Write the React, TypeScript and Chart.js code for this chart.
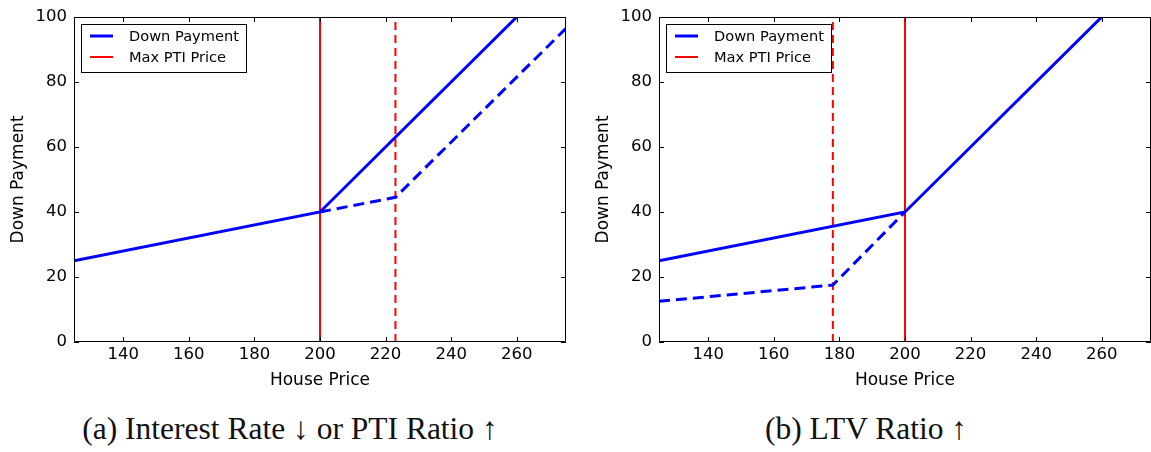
import React, { useEffect, useRef } from "react";
import { Chart, registerables } from "chart.js";

Chart.register(...registerables);

// ---- data ----
const xMin = 125;
const xMax = 275;
const yMin = 0;
const yMax = 100;
const xTicks = [140, 160, 180, 200, 220, 240, 260];
const yTicks = [0, 20, 40, 60, 80, 100];

const baseX = [125, 200, 260];
const baseY = [25, 40, 100];

const rateDashX = [200, 223, 275];
const rateDashY = [40, 44.5, 96.5];

const ltvDashX = [125, 178, 200];
const ltvDashY = [12.5, 17.5, 40];

const maxPtiBase = 200;
const maxPtiRate = 223;
const maxPtiLtv = 178;

const legendLabels = ["Down Payment", "Max PTI Price"];
const xTitle = "House Price";
const yTitle = "Down Payment";
const captionA = "(a) Interest Rate \u2193 or PTI Ratio \u2191";
const captionB = "(b) LTV Ratio \u2191";

const BLUE = "#0000ff";
const RED = "#ff0000";
const FONT = "'DejaVu Sans', sans-serif";

const toPts = (xs: number[], ys: number[]) => xs.map((x, i) => ({ x, y: ys[i] }));

const framePlugin = {
  id: "frameTicksLegend",
  afterDatasetsDraw(chart: any) {
    const { ctx, chartArea: a, scales } = chart;
    const L = Math.round(a.left), R = Math.round(a.right), T = Math.round(a.top), B = Math.round(a.bottom);
    ctx.save();
    ctx.strokeStyle = "#000";
    ctx.lineWidth = 1;
    ctx.beginPath();
    ctx.rect(L + 0.5, T + 0.5, R - L - 1, B - T - 1);
    ctx.stroke();
    const tl = 5;
    ctx.beginPath();
    for (const v of xTicks) {
      const p = Math.round(scales.x.getPixelForValue(v)) + 0.5;
      ctx.moveTo(p, B); ctx.lineTo(p, B - tl);
      ctx.moveTo(p, T); ctx.lineTo(p, T + tl);
    }
    for (const v of yTicks) {
      const p = Math.round(scales.y.getPixelForValue(v)) + 0.5;
      ctx.moveTo(L, p); ctx.lineTo(L + tl, p);
      ctx.moveTo(R, p); ctx.lineTo(R - tl, p);
    }
    ctx.stroke();

    // legend
    const bx = L + 7, by = T + 7, bw = 165, bh = 48;
    ctx.fillStyle = "#fff";
    ctx.fillRect(bx, by, bw, bh);
    ctx.strokeRect(bx + 0.5, by + 0.5, bw, bh);
    const rows = [
      { label: legendLabels[0], color: BLUE, w: 3, y: by + 12 },
      { label: legendLabels[1], color: RED, w: 2, y: by + 33 },
    ];
    ctx.font = `14.6px ${FONT}`;
    ctx.textBaseline = "middle";
    ctx.textAlign = "left";
    for (const r of rows) {
      ctx.strokeStyle = r.color;
      ctx.lineWidth = r.w;
      ctx.beginPath();
      ctx.moveTo(bx + 9, r.y);
      ctx.lineTo(bx + 32, r.y);
      ctx.stroke();
      ctx.fillStyle = "#000";
      ctx.fillText(r.label, bx + 48, r.y + 1);
    }
    ctx.restore();
  },
};

function makeConfig(dashX: number[], dashY: number[], newPti: number): any {
  return {
    type: "scatter",
    data: {
      datasets: [
        { data: toPts(baseX, baseY), borderColor: BLUE, borderWidth: 3, showLine: true, pointRadius: 0, tension: 0 },
        { data: toPts(dashX, dashY), borderColor: BLUE, borderWidth: 3, borderDash: [11, 6], showLine: true, pointRadius: 0, tension: 0 },
        { data: [{ x: maxPtiBase, y: yMin }, { x: maxPtiBase, y: yMax }], borderColor: RED, borderWidth: 2, showLine: true, pointRadius: 0 },
        { data: [{ x: newPti, y: yMin }, { x: newPti, y: yMax }], borderColor: RED, borderWidth: 2, borderDash: [8, 5], showLine: true, pointRadius: 0 },
      ],
    },
    options: {
      responsive: false,
      animation: false,
      devicePixelRatio: 1,
      layout: { padding: { left: 0, right: 9, top: 14, bottom: 0 } },
      plugins: { legend: { display: false }, tooltip: { enabled: false } },
      scales: {
        x: {
          type: "linear",
          min: xMin,
          max: xMax,
          afterBuildTicks: (s: any) => { s.ticks = xTicks.map((v) => ({ value: v })); },
          afterFit: (s: any) => { s.height = 58; },
          grid: { display: false, drawTicks: false },
          border: { display: false },
          ticks: { font: { family: FONT, size: 16.5 }, color: "#000", padding: 3, maxRotation: 0, autoSkip: false },
          title: { display: true, text: xTitle, color: "#000", font: { family: FONT, size: 17 }, padding: { top: 0, bottom: 9 } },
        },
        y: {
          type: "linear",
          min: yMin,
          max: yMax,
          afterBuildTicks: (s: any) => { s.ticks = yTicks.map((v) => ({ value: v })); },
          afterFit: (s: any) => { s.width = 74; },
          grid: { display: false, drawTicks: false },
          border: { display: false },
          ticks: { font: { family: FONT, size: 16.5 }, color: "#000", padding: 7, autoSkip: false },
          title: { display: true, text: yTitle, color: "#000", font: { family: FONT, size: 17 }, padding: { top: 8, bottom: 0 } },
        },
      },
    },
    plugins: [framePlugin],
  };
}

function Panel({ left, config }: { left: number; config: any }) {
  const ref = useRef<HTMLCanvasElement>(null);
  useEffect(() => {
    if (!ref.current) return;
    const chart = new Chart(ref.current, config);
    return () => chart.destroy();
  }, []);
  return (
    <canvas
      ref={ref}
      width={575}
      height={400}
      style={{ position: "absolute", left, top: 0, width: 575, height: 400 }}
    />
  );
}

const captionStyle: React.CSSProperties = {
  position: "absolute",
  top: 409,
  height: 40,
  lineHeight: "40px",
  textAlign: "center",
  fontFamily: "'Liberation Serif', serif",
  fontSize: 31.5,
  color: "#111",
  whiteSpace: "nowrap",
};

export default function App() {
  return (
    <div style={{ position: "absolute", left: 0, top: 0, width: 1151, height: 452, overflow: "hidden", background: "#fff" }}>
      <Panel left={0} config={makeConfig(rateDashX, rateDashY, maxPtiRate)} />
      <Panel left={585} config={makeConfig(ltvDashX, ltvDashY, maxPtiLtv)} />
      <div style={{ ...captionStyle, left: 0, width: 580 }}>{captionA}</div>
      <div style={{ ...captionStyle, left: 585, width: 562 }}>{captionB}</div>
    </div>
  );
}
